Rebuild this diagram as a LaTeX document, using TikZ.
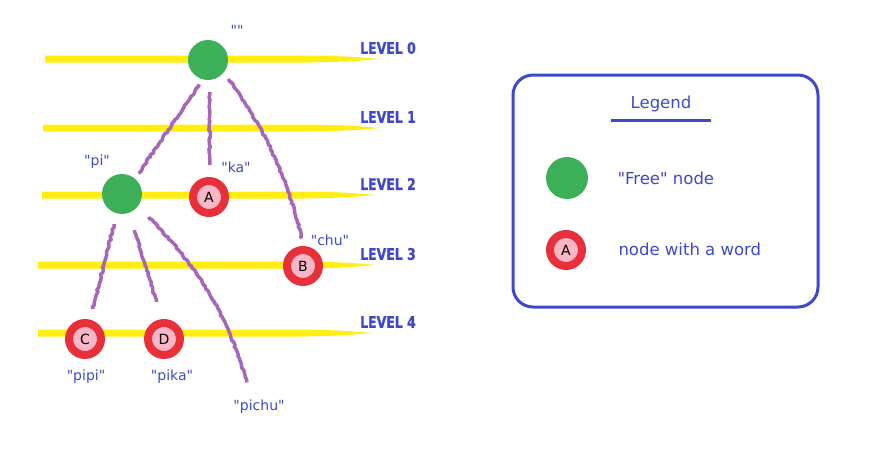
\documentclass[tikz,border=0pt]{standalone}
\usepackage{fontspec}
\setmainfont{DejaVu Sans}
\newfontfamily\labelfont{DejaVu Sans}
\newfontfamily\levelfont{DejaVu Sans}[FakeStretch=0.78, FakeBold=0.8]
\usetikzlibrary{decorations.pathmorphing}

\definecolor{inkblue}{HTML}{3F48CC}
\definecolor{levelyellow}{HTML}{FFEE10}
\definecolor{nodegreen}{HTML}{3DAF58}
\definecolor{nodered}{HTML}{E8303A}
\definecolor{nodepink}{HTML}{F9B6C6}
\definecolor{edgepurple}{HTML}{A866B8}

\begin{document}
\begin{tikzpicture}[x=1pt,y=1pt,
    freenode/.style={circle, fill=nodegreen, minimum size=40pt, inner sep=0pt},
    wordnode/.style={circle, fill=nodepink, draw=nodered, line width=8pt,
        minimum size=32pt, inner sep=0pt, font=\labelfont\fontsize{14}{14}\selectfont},
    wordlabel/.style={text=inkblue, font=\labelfont\fontsize{14}{16}\selectfont},
    levellabel/.style={text=inkblue, font=\levelfont\bfseries\fontsize{16}{16}\selectfont},
    legendtext/.style={text=inkblue, font=\labelfont\fontsize{16.5}{18}\selectfont},
    branch/.style={draw=edgepurple, line width=3.5pt, decorate,
        decoration={random steps, segment length=2.5pt, amplitude=0.8pt,
            pre=moveto, pre length=#1, post=moveto, post length=#1}},
    branch/.default=0pt]

    \pgfmathsetseed{7}
    \useasboundingbox (0,0) rectangle (887,-455);

    % niveaux
    \foreach \i/\y/\xa/\xb in {0/59/45/380, 1/128/43/380, 2/195/42/376, 3/265/38/376, 4/333/38/372}{
        \fill[levelyellow] (\xa,-\y+3.5) -- (\xb-70,-\y+3.5)
            .. controls (\xb-30,-\y+2.5) .. (\xb,-\y)
            .. controls (\xb-30,-\y-2.5) .. (\xb-70,-\y-3.5)
            -- (\xa,-\y-3.5) -- cycle;
        \node[levellabel] (lvl\i) at (388,-\y+11) {LEVEL \i};
    }

    % noeuds
    \node[freenode] (root) at (208,-60) {};
    \node[freenode] (pi) at (122,-194) {};
    \node[wordnode] (A) at (209,-197) {A};
    \node[wordnode] (B) at (303,-266) {B};
    \node[wordnode] (C) at (85,-339) {C};
    \node[wordnode] (D) at (164,-339) {D};

    % mots
    \node[wordlabel] (lroot) at (237,-30) {""};
    \node[wordlabel] (lpi) at (97,-162) {"pi"};
    \node[wordlabel] (lka) at (236,-167) {"ka"};
    \node[wordlabel] (lchu) at (330,-240) {"chu"};
    \node[wordlabel] (lpipi) at (86,-377) {"pipi"};
    \node[wordlabel] (lpika) at (172,-377) {"pika"};
    \node[wordlabel] (pichu) at (259,-407) {"pichu"};

    % branches
    \draw[branch=6pt] (root.-105) -- (pi.50);
    \draw[branch=12pt] (root.-85) -- (A.88);
    \draw[branch=8pt] (root.-38) to[bend left=11] (B.88);
    \draw[branch=11pt] (pi.-105) -- (C.75);
    \draw[branch=18pt] (pi.-70) -- (D.96);
    \draw[branch=15pt] (pi.-37) to[out=-45, in=105] (pichu.128);

    % legende
    \draw[inkblue, line width=3pt, rounded corners=20pt] (513,-75) rectangle (818,-307);
    \node[legendtext] (legend) at (661,-104) {Legend};
    \draw[inkblue, line width=3pt] ([xshift=-16pt,yshift=-5pt]legend.south west)
        -- ([xshift=16pt,yshift=-5pt]legend.south east);
    \node[freenode, minimum size=42pt] (lfree) at (567,-178) {};
    \node[legendtext, anchor=west] (tfree) at (614,-178) {"Free" node};
    \node[wordnode] (lword) at (566,-250) {A};
    \node[legendtext, anchor=west] (tword) at (615,-249) {node with a word};

\end{tikzpicture}
\end{document}
